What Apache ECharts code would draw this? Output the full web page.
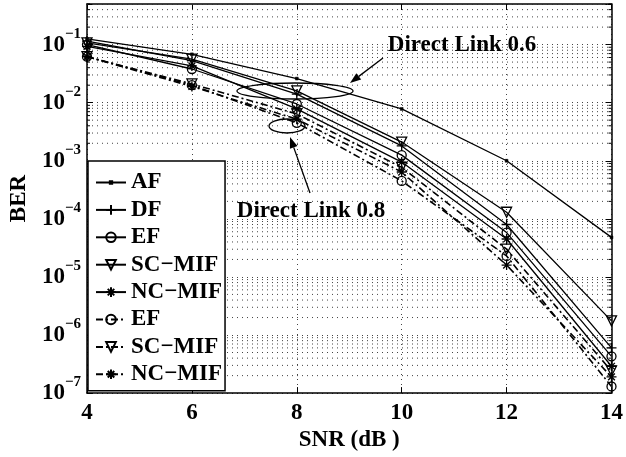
<!DOCTYPE html>
<html>
<head>
<meta charset="utf-8">
<script src="https://cdn.jsdelivr.net/npm/echarts@6/dist/echarts.min.js"></script>
<style>
html, body { margin: 0; padding: 0; background: #fff; }
#chart { width: 626px; height: 457px; }
</style>
</head>
<body>
<div id="chart"></div>
<script>
// SNR (dB) points
const snr = [4, 6, 8, 10, 12, 14];

// direct link 0.6 (solid)
const berAF = [0.125, 0.068, 0.026, 7.8e-3, 1.0e-3, 4.8e-5];
const berDF = [0.115, 0.053, 0.014, 1.8e-3, 8.0e-5, 6.0e-7];
const berEF = [0.100, 0.038, 0.0095, 1.25e-3, 5.8e-5, 4.3e-7];
const berSC = [0.107, 0.056, 0.016, 2.1e-3, 1.3e-4, 1.75e-6];
const berNC = [0.093, 0.043, 0.0078, 9.5e-4, 4.5e-5, 2.9e-7];

// direct link 0.8 (dash-dot)
const berEF8 = [0.062, 0.020, 0.0045, 4.5e-4, 2.3e-5, 1.3e-7];
const berSC8 = [0.062, 0.021, 0.0064, 7.7e-4, 3.0e-5, 2.4e-7];
const berNC8 = [0.062, 0.019, 0.0052, 6.4e-4, 1.6e-5, 1.9e-7];

const decades = [-7, -6, -5, -4, -3, -2, -1];

const FONT = 'Liberation Serif';
const FS = 23;
const BLACK = '#000';

// minor grid values 2..9 x 10^e (up to the top of the axis)
const yMax = 0.5;
const minorVals = [];
decades.forEach(function (e) {
    for (let k = 2; k <= 9; k++) {
        const v = k * Math.pow(10, e);
        if (v <= yMax) minorVals.push([4, v]);
    }
});

const dotPath = 'path://M0 0M10 10M3.8 3.8L6.2 3.8L6.2 6.2L3.8 6.2Z';
const plusPath = 'path://M5 0L5 10M0 5L10 5';
const starPath = 'path://M5 0L5 10M0 5L10 5M1.6 1.6L8.4 8.4M8.4 1.6L1.6 8.4';

function pairs(ys) {
    return snr.map(function (x, i) { return [x, ys[i]]; });
}

function curve(name, ys, symbol, size, dashed, rotate) {
    return {
        name: name,
        type: 'line',
        data: pairs(ys),
        symbol: symbol,
        symbolSize: size,
        symbolRotate: rotate || 0,
        showAllSymbol: true,
        lineStyle: {
            color: BLACK,
            width: dashed ? 1.6 : 1.3,
            type: dashed ? [7, 3, 2, 3] : 'solid'
        },
        itemStyle: {
            color: symbol === dotPath ? BLACK : 'transparent',
            borderColor: BLACK,
            borderWidth: symbol === dotPath ? 0.5 : 1.3
        },
        z: 3
    };
}

const seriesList = [
    curve('AF', berAF, dotPath, 12, false),
    curve('DF', berDF, plusPath, 10, false),
    curve('EF', berEF, 'circle', 9, false),
    curve('SC−MIF', berSC, 'triangle', 10, false, 180),
    curve('NC−MIF', berNC, starPath, 10, false),
    curve('EF 0.8', berEF8, 'circle', 9, true),
    curve('SC−MIF 0.8', berSC8, 'triangle', 10, true, 180),
    curve('NC−MIF 0.8', berNC8, starPath, 10, true)
];

// minor grid lines + minor ticks on the log axis
seriesList.push({
    type: 'custom',
    silent: true,
    z: 1,
    data: minorVals,
    renderItem: function (params, api) {
        const cs = params.coordSys;
        const y = api.coord([4, api.value(1)])[1];
        return {
            type: 'group',
            children: [
                { type: 'line', shape: { x1: cs.x, y1: y, x2: cs.x + cs.width, y2: y },
                  style: { stroke: '#444', lineWidth: 1, lineDash: [1, 4] } },
                { type: 'line', shape: { x1: cs.x, y1: y, x2: cs.x + 3, y2: y },
                  style: { stroke: BLACK, lineWidth: 1 } },
                { type: 'line', shape: { x1: cs.x + cs.width - 3, y1: y, x2: cs.x + cs.width, y2: y },
                  style: { stroke: BLACK, lineWidth: 1 } }
            ]
        };
    }
});

function yLabel(value) {
    const lg = Math.log10(value);
    const e = Math.round(lg);
    if (Math.abs(lg - e) > 1e-6) return '';
    return '{b|10}{s|−' + (-e) + '}';
}

const axisLine = { show: true, lineStyle: { color: BLACK, width: 1.5 } };
const dotted = { show: true, lineStyle: { color: '#444', width: 1, type: [1, 4] } };
const tickIn = { show: true, inside: true, length: 6, lineStyle: { color: BLACK, width: 1 } };
const boldText = { fontFamily: FONT, fontWeight: 'bold', fontSize: FS, color: BLACK };

// annotation helpers (pixel positions of the callouts)
function arrow(x1, y1, x2, y2) {
    const a = Math.atan2(y2 - y1, x2 - x1);
    const len = 11, w = 4;
    const bx = x2 - len * Math.cos(a), by = y2 - len * Math.sin(a);
    return [
        { type: 'line', shape: { x1: x1, y1: y1, x2: bx, y2: by },
          style: { stroke: BLACK, lineWidth: 1.3 }, z: 10 },
        { type: 'polygon', shape: { points: [[x2, y2],
            [bx + w * Math.sin(a), by - w * Math.cos(a)],
            [bx - w * Math.sin(a), by + w * Math.cos(a)]] },
          style: { fill: BLACK }, z: 10 }
    ];
}

function callout(text, x, y) {
    return { type: 'text', x: x, y: y, z: 10,
             style: { text: text, font: 'bold ' + FS + 'px "Liberation Serif"', fill: BLACK,
                      textAlign: 'center', textVerticalAlign: 'middle' } };
}

const chart = echarts.init(document.getElementById('chart'), null, { renderer: 'canvas' });
chart.setOption({
    animation: false,
    backgroundColor: '#fff',
    grid: { left: 84, right: 13, top: 4, bottom: 63, containLabel: false },
    xAxis: [{
        type: 'value',
        min: 4, max: 14, interval: 2,
        name: 'SNR (dB )',
        nameLocation: 'middle',
        nameGap: 22,
        nameTextStyle: boldText,
        axisLine: axisLine,
        axisTick: tickIn,
        axisLabel: Object.assign({ margin: 8 }, boldText),
        splitLine: dotted
    }, {
        type: 'value',
        position: 'top',
        min: 4, max: 14, interval: 2,
        axisLine: axisLine,
        axisTick: tickIn,
        axisLabel: { show: false },
        splitLine: { show: false }
    }],
    yAxis: [{
        type: 'log',
        logBase: 10,
        min: 1e-7, max: yMax,
        name: 'BER',
        nameLocation: 'middle',
        nameGap: 56,
        nameRotate: 90,
        nameTextStyle: boldText,
        axisLine: axisLine,
        axisTick: tickIn,
        axisLabel: {
            formatter: yLabel,
            margin: 6,
            color: BLACK,
            rich: {
                b: { fontFamily: FONT, fontWeight: 'bold', fontSize: FS, color: BLACK,
                     lineHeight: 36, verticalAlign: 'middle' },
                s: { fontFamily: FONT, fontWeight: 'bold', fontSize: 15, color: BLACK,
                     lineHeight: 16, verticalAlign: 'top' }
            }
        },
        splitLine: dotted
    }, {
        type: 'log',
        logBase: 10,
        position: 'right',
        min: 1e-7, max: yMax,
        axisLine: axisLine,
        axisTick: tickIn,
        axisLabel: { show: false },
        splitLine: { show: false }
    }],
    legend: {
        data: ['AF', 'DF', 'EF', 'SC−MIF', 'NC−MIF', 'EF 0.8', 'SC−MIF 0.8', 'NC−MIF 0.8'],
        orient: 'vertical',
        left: 88,
        top: 161,
        padding: [10, 3, 5, 7],
        itemGap: 4.4,
        itemWidth: 30,
        itemHeight: 12,
        backgroundColor: '#fff',
        borderColor: BLACK,
        borderWidth: 1.5,
        borderRadius: 0,
        selectedMode: false,
        z: 20,
        formatter: function (name) { return name.replace(/ 0\.8$/, ''); },
        textStyle: Object.assign({ lineHeight: 22 }, boldText)
    },
    graphic: [
        { type: 'ellipse', shape: { cx: 295, cy: 91, rx: 58, ry: 8 },
          style: { fill: 'none', stroke: BLACK, lineWidth: 1.3 }, z: 10 },
        { type: 'ellipse', shape: { cx: 287, cy: 126, rx: 18, ry: 7 },
          style: { fill: 'none', stroke: BLACK, lineWidth: 1.3 }, z: 10 },
        callout('Direct Link 0.6', 462, 45),
        callout('Direct Link 0.8', 311, 211)
    ].concat(arrow(383, 58, 350, 83), arrow(310, 193, 290, 137)),
    series: seriesList
});
</script>
</body>
</html>
